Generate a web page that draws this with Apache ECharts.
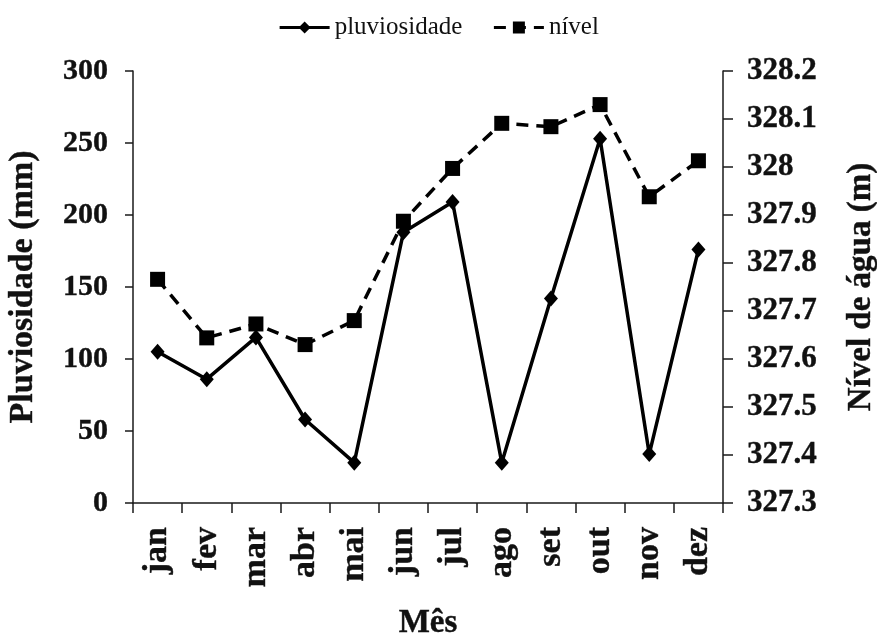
<!DOCTYPE html>
<html>
<head>
<meta charset="utf-8">
<script src="https://cdn.jsdelivr.net/npm/echarts@6/dist/echarts.min.js"></script>
<style>
  html, body { margin: 0; padding: 0; background: #ffffff; }
  #chart { width: 877px; height: 636px; }
</style>
</head>
<body>
<div id="chart"></div>
<script>
// Monthly rainfall (left axis) and water level (right axis)
const meses = ['jan', 'fev', 'mar', 'abr', 'mai', 'jun', 'jul', 'ago', 'set', 'out', 'nov', 'dez'];
const pluviosidade = [105, 86, 115, 58, 28, 188, 209, 28, 142, 253, 34, 176];
const nivel = [327.766, 327.644, 327.673, 327.630, 327.680, 327.887, 327.997, 328.091, 328.084, 328.130, 327.938, 328.013];

const serif = "'Liberation Serif', 'DejaVu Serif', serif";
const axisLineStyle = { color: '#1a1a1a', width: 1.5 };
const boldText = (size) => ({
  fontFamily: serif, fontWeight: 'bold', fontSize: size, color: '#111',
  textBorderColor: '#111', textBorderWidth: 0.4
});

const chart = echarts.init(document.getElementById('chart'), null, { renderer: 'canvas' });

chart.setOption({
  backgroundColor: '#ffffff',
  animation: false,
  legend: {
    top: 10,
    left: 'center',
    itemWidth: 50,
    itemHeight: 15,
    itemGap: 30,
    lineStyle: { width: 3 },
    textStyle: { fontFamily: serif, fontSize: 25, color: '#111' },
    data: ['pluviosidade', 'nível']
  },
  grid: { left: 133, right: 154, top: 71, bottom: 133, containLabel: false, outerBoundsMode: 'none' },
  xAxis: {
    type: 'category',
    data: meses,
    boundaryGap: true,
    name: 'Mês',
    nameLocation: 'middle',
    nameGap: 104,
    nameTextStyle: boldText(33),
    axisLine: { lineStyle: axisLineStyle },
    axisTick: { show: true, length: 10, alignWithLabel: false, lineStyle: axisLineStyle },
    axisLabel: Object.assign({ rotate: 90, margin: 24, interval: 0 }, boldText(34)),
    splitLine: { show: false }
  },
  yAxis: [
    {
      type: 'value',
      position: 'left',
      min: 0, max: 300, interval: 50,
      name: 'Pluviosidade (mm)',
      nameLocation: 'middle',
      nameGap: 93,
      nameTextStyle: boldText(34),
      axisLine: { show: true, lineStyle: axisLineStyle },
      axisTick: { show: true, length: 8, lineStyle: axisLineStyle },
      axisLabel: Object.assign({ margin: 25 }, boldText(30)),
      splitLine: { show: false }
    },
    {
      type: 'value',
      position: 'right',
      min: 327.3, max: 328.2, interval: 0.1,
      name: 'Nível de água (m)',
      nameLocation: 'middle',
      nameGap: 122,
      nameTextStyle: boldText(33),
      axisLine: { show: true, lineStyle: axisLineStyle },
      axisTick: { show: true, length: 10, lineStyle: axisLineStyle },
      axisLabel: Object.assign({
        margin: 24,
        formatter: v => String(+v.toFixed(1))
      }, boldText(31)),
      splitLine: { show: false }
    }
  ],
  series: [
    {
      name: 'pluviosidade',
      type: 'line',
      yAxisIndex: 0,
      data: pluviosidade,
      symbol: 'diamond',
      symbolSize: [14, 16],
      itemStyle: { color: '#000' },
      lineStyle: { color: '#000', width: 3.5, type: 'solid' },
      z: 3
    },
    {
      name: 'nível',
      type: 'line',
      yAxisIndex: 1,
      data: nivel,
      symbol: 'rect',
      symbolSize: 15,
      itemStyle: { color: '#000' },
      lineStyle: { color: '#000', width: 3.5, type: [12, 8] },
      z: 2
    }
  ]
});
</script>
</body>
</html>
